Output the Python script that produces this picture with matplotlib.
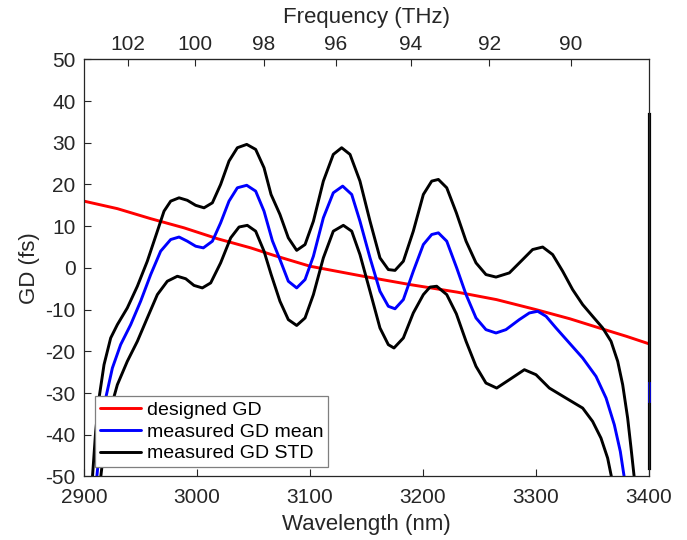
import numpy as np
import matplotlib.pyplot as plt

plt.rcParams["font.family"] = ["Liberation Sans", "DejaVu Sans"]
plt.rcParams["axes.unicode_minus"] = False

C_NM_THZ = 299792.458

# designed group delay
design_wl = [2900, 2929.5, 2959, 2988.5, 3018, 3047.5, 3068, 3100, 3147, 3188.5,
             3230, 3265, 3300, 3330, 3356, 3380, 3400]
design_gd = [16.0, 14.2, 11.8, 9.6, 7.0, 4.8, 3.0, 0.4, -2.0, -4.0,
             -5.8, -7.6, -10.0, -12.2, -14.4, -16.4, -18.2]

# measured mean
mean_wl = [2911.2, 2914.7, 2919.2, 2925.1, 2932.4, 2941.3, 2950.1, 2959, 2967.8,
           2976.7, 2984.1, 2991.4, 2998.8, 3005.6, 3013.6, 3020.9, 3028.3, 3035.7,
           3044, 3051.9, 3059.3, 3066.7, 3073.4, 3080.8, 3088.2, 3095.6, 3103,
           3111.8, 3120.6, 3128.9, 3136.9, 3144.2, 3153.1, 3161.9, 3169.3, 3175.2,
           3182.6, 3191.4, 3200.3, 3207.7, 3213.6, 3221, 3229.8, 3238.1, 3246.9,
           3255.7, 3264.6, 3273.4, 3285.2, 3294.1, 3301.5, 3308.9, 3317.7, 3329.5,
           3341.3, 3353.1, 3362, 3369.3, 3374.6, 3378.2]
mean_gd = [-50.4, -40.8, -31.2, -24.0, -18.4, -13.6, -8.0, -1.6, 4.0,
           6.8, 7.4, 6.4, 5.2, 4.8, 6.4, 10.8, 16.0, 19.2,
           19.8, 18.4, 13.6, 6.5, 2.0, -3.2, -4.8, -2.8, 2.8,
           12.0, 18.0, 19.6, 17.6, 11.2, 2.4, -5.6, -9.2, -9.8,
           -7.6, -0.8, 5.6, 8.0, 8.4, 6.4, 0.0, -6.4, -12.0,
           -14.8, -15.6, -14.8, -12.4, -10.8, -10.4, -11.6, -14.4, -18.0,
           -21.6, -26.0, -31.2, -37.6, -44.0, -50.4]

# measured mean + STD
std_hi_wl = [2907.4, 2910.3, 2913.3, 2917.7, 2923.6, 2929.5, 2938.3, 2947.2, 2956,
             2964.9, 2970.8, 2976.7, 2984.1, 2991.4, 2998.8, 3006.2, 3013.6, 3020.9,
             3028.3, 3035.7, 3044, 3051.9, 3059.3, 3065.5, 3073.4, 3080.8, 3088.2,
             3095.6, 3103, 3111.8, 3120.6, 3128, 3135.4, 3144.2, 3153.1, 3161.9,
             3169.3, 3175.2, 3182.6, 3191.4, 3200.3, 3207.7, 3213.6, 3221, 3229.5,
             3238.1, 3246.9, 3255.7, 3264.6, 3276.4, 3288.2, 3297, 3305.9, 3314.7,
             3323.6, 3332.4, 3341.3, 3350.1, 3359, 3366.4, 3372.3, 3376.7, 3381.1,
             3384.1, 3387]
std_hi_gd = [-50.4, -39.2, -31.2, -23.2, -16.8, -13.6, -9.6, -4.4, 1.6,
             8.8, 13.6, 16.0, 16.8, 16.2, 15.0, 14.4, 15.6, 20.0,
             25.6, 28.8, 29.6, 28.4, 24.0, 17.6, 12.8, 7.2, 4.2,
             5.6, 11.2, 20.8, 27.2, 28.8, 27.2, 20.8, 11.2, 2.4,
             -0.4, -0.6, 1.6, 8.8, 17.6, 20.8, 21.2, 19.2, 13.2,
             6.4, 1.2, -1.6, -2.2, -1.2, 2.0, 4.4, 5.0, 3.2,
             -0.8, -5.2, -8.8, -11.6, -14.4, -17.6, -22.4, -28.0, -36.0,
             -43.2, -50.4]

# measured mean - STD
std_lo_wl = [2914.7, 2917.7, 2922.1, 2929.5, 2938.3, 2947.2, 2956, 2964.9, 2973.7,
             2982.6, 2990, 2997.3, 3004.7, 3012.1, 3020.9, 3029.8, 3037.2, 3044.5,
             3051.9, 3059.3, 3065.5, 3073.4, 3080.8, 3088.2, 3095.6, 3103, 3111.8,
             3120.6, 3129.5, 3136.9, 3144.2, 3153.1, 3161.9, 3169.3, 3174.3, 3182.6,
             3191.4, 3200.3, 3206.2, 3212.1, 3221, 3229.5, 3238.1, 3246.9, 3255.7,
             3265.2, 3276.4, 3289.7, 3300, 3311.8, 3326.5, 3341.3, 3350.1, 3357.5,
             3363.4, 3367]
std_lo_gd = [-50.4, -43.2, -35.2, -28.0, -22.4, -17.6, -12.0, -6.4, -3.2,
             -2.0, -2.6, -4.2, -4.8, -3.6, 1.2, 7.2, 9.8, 10.2,
             8.8, 4.0, -1.5, -8.0, -12.4, -13.8, -12.0, -6.4, 2.4,
             8.8, 10.2, 8.8, 3.2, -5.6, -14.4, -18.4, -19.2, -16.8,
             -10.8, -6.4, -4.6, -4.4, -6.4, -11.0, -17.6, -23.6, -27.6,
             -28.8, -26.8, -24.4, -25.6, -28.8, -31.2, -33.6, -36.8, -40.8,
             -45.6, -50.4]

# stray vertical segments at the band edge
edge_wl = [3400, 3400]
edge_std_gd = [37, -48]
edge_mean_gd = [-27.5, -32]

wl_ticks = [2900, 3000, 3100, 3200, 3300, 3400]
gd_ticks = [-50, -40, -30, -20, -10, 0, 10, 20, 30, 40, 50]
freq_ticks = [102, 100, 98, 96, 94, 92, 90]

TXT = "#262626"

fig = plt.figure(figsize=(6.87, 5.4), dpi=100)
ax = fig.add_axes([0.1223, 0.1176, 0.8224, 0.7726])

line_kw = dict(lw=2.1, solid_joinstyle="round", solid_capstyle="round")
ax.plot(design_wl, design_gd, color="red", label="designed GD", **line_kw)
ax.plot(mean_wl, mean_gd, color="blue", label="measured GD mean", **line_kw)
ax.plot(std_hi_wl, std_hi_gd, color="black", label="measured GD STD", **line_kw)
ax.plot(std_lo_wl, std_lo_gd, color="black", **line_kw)
ax.plot(edge_wl, edge_std_gd, color="black", lw=2.3, clip_on=False)
ax.plot(edge_wl, edge_mean_gd, color="blue", lw=2.0, clip_on=False)

ax.set_xlim(2900, 3400)
ax.set_ylim(-50, 50)
ax.set_xticks(wl_ticks)
ax.set_yticks(gd_ticks)
ax.tick_params(direction="in", length=5, width=0.8, colors=TXT, labelsize=15,
               top=False, right=False)
ax.tick_params(axis="x", pad=8)
ax.tick_params(axis="y", pad=6)
for sp in ax.spines.values():
    sp.set_color(TXT)
    sp.set_linewidth(0.9)

ax.set_xlabel("Wavelength (nm)", fontsize=16, color=TXT, labelpad=5)
ax.set_ylabel("GD (fs)", fontsize=16, color=TXT, labelpad=4)

top = ax.secondary_xaxis("top", functions=(lambda w: C_NM_THZ / w,
                                           lambda f: C_NM_THZ / f))
top.set_xticks(freq_ticks)
top.tick_params(direction="in", length=5, width=0.8, colors=TXT, labelsize=15, pad=3.5)
top.spines["top"].set_color(TXT)
top.set_xlabel("Frequency (THz)", fontsize=16, color=TXT, labelpad=9)

leg = ax.legend(loc="lower left", bbox_to_anchor=(0.02, 0.022), borderaxespad=0,
                fontsize=14, frameon=True, fancybox=False, framealpha=1,
                edgecolor="#7f7f7f", handlelength=2.1, handletextpad=0.3,
                labelspacing=0.22, borderpad=0.25)
leg.get_frame().set_linewidth(0.9)
for t in leg.get_texts():
    t.set_color("black")

fig.savefig("out.png", dpi=100)
